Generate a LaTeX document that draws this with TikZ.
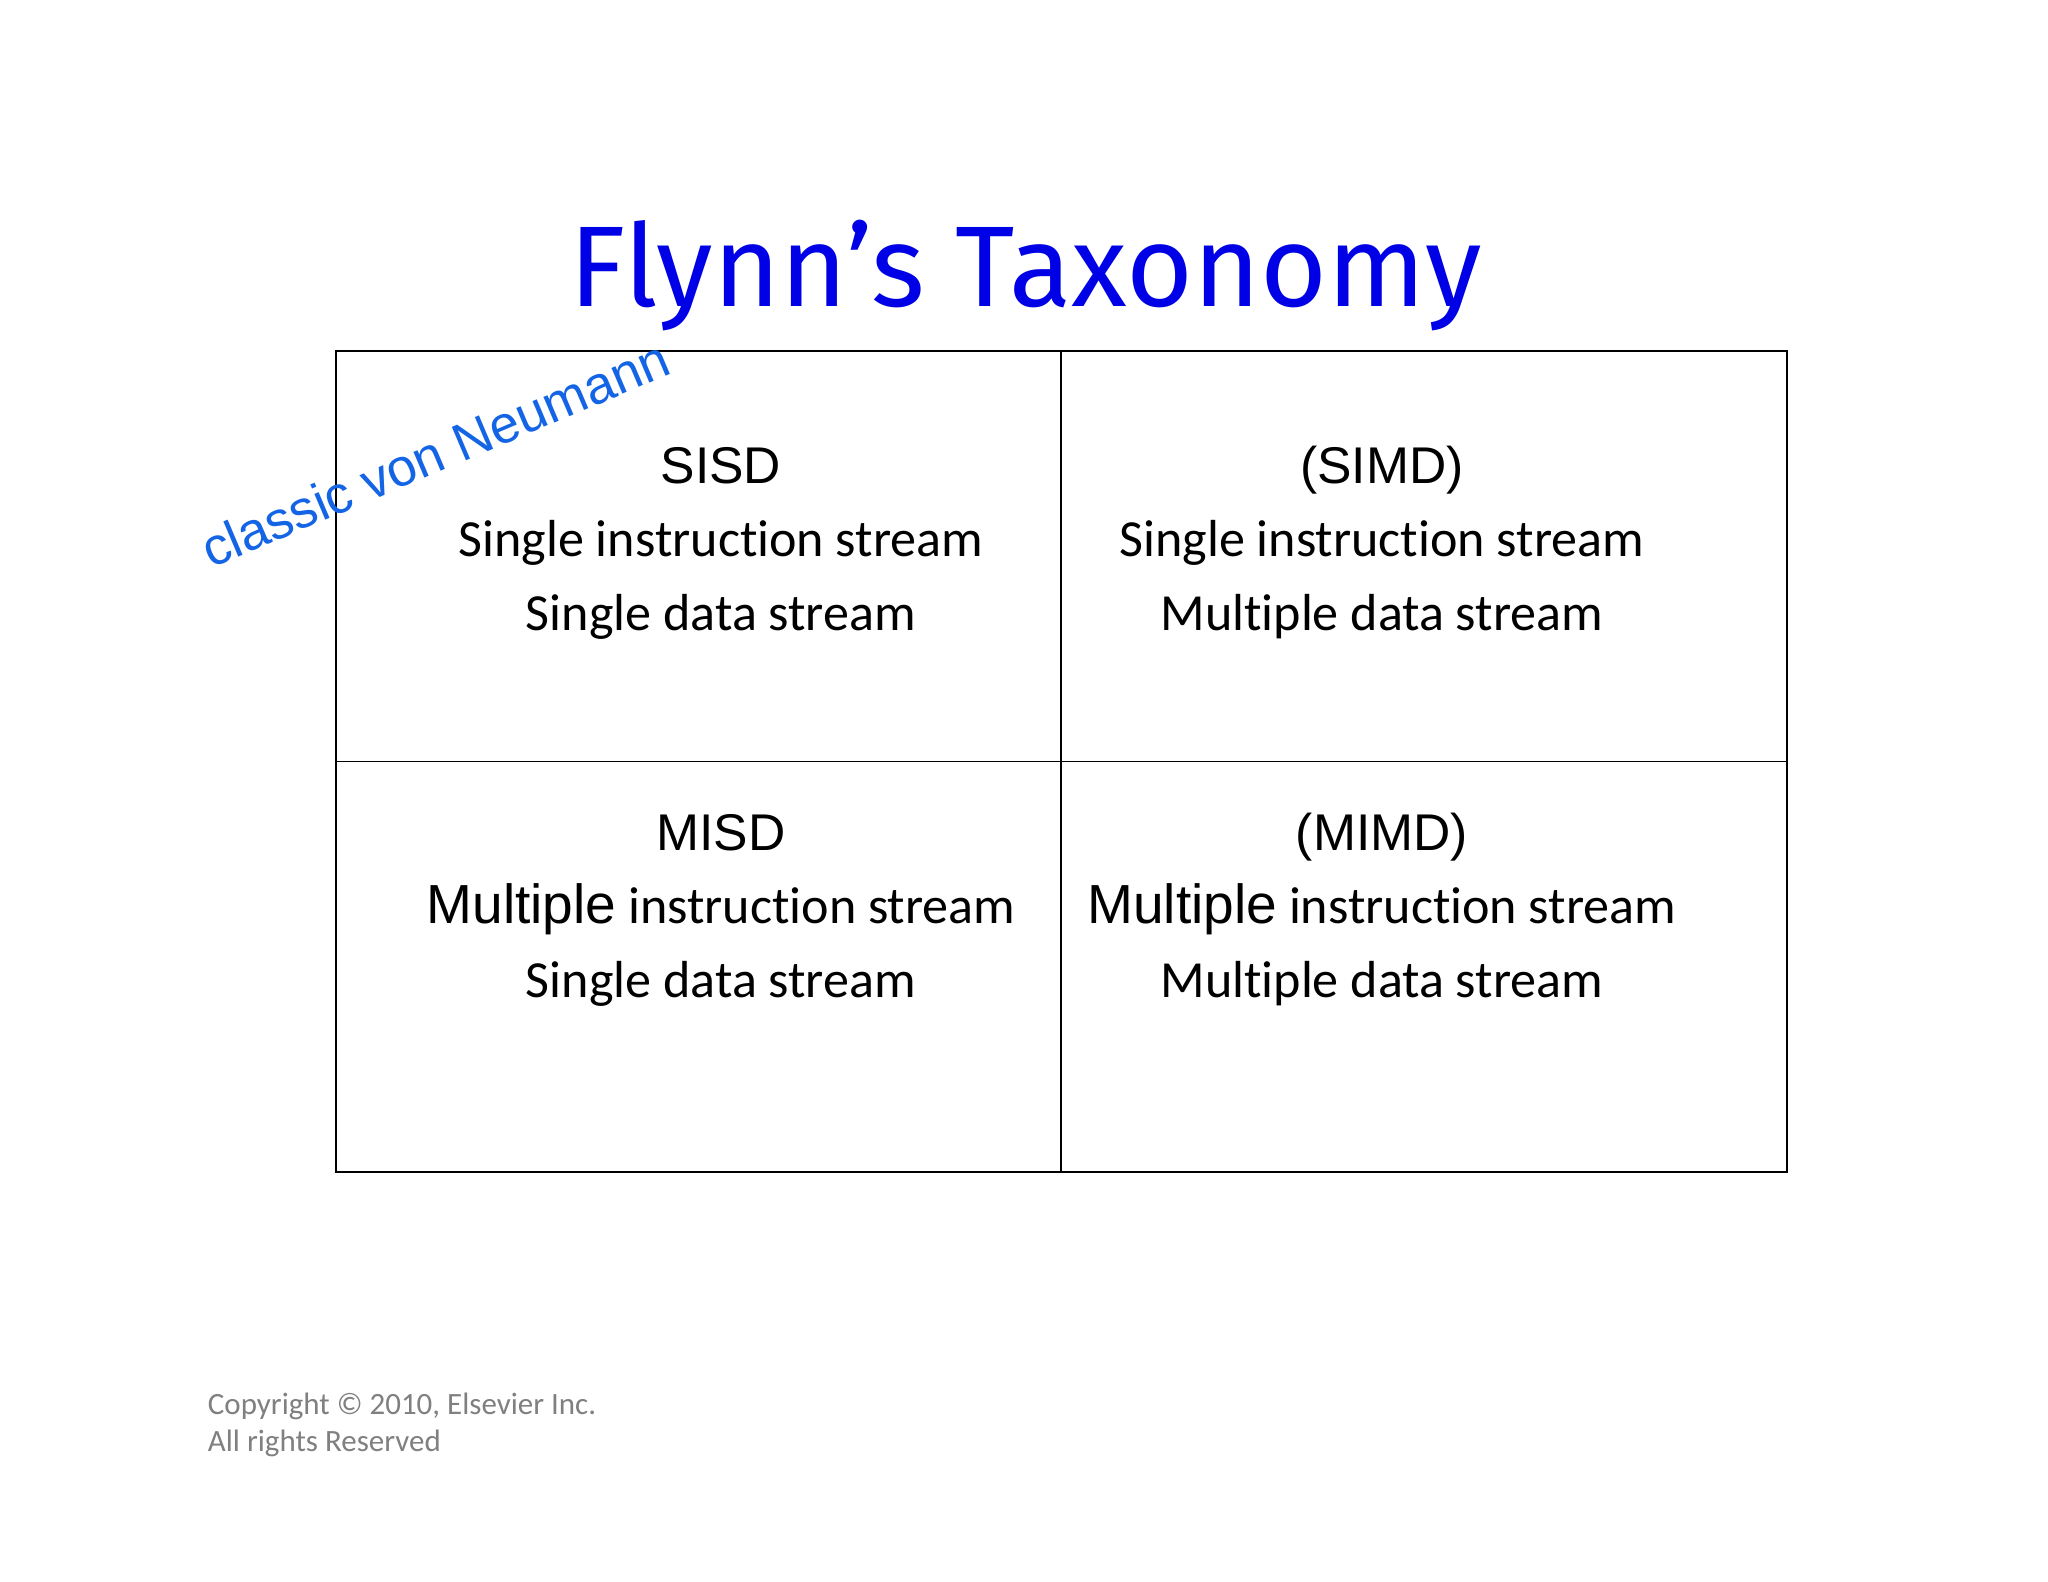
\documentclass[tikz,border=0pt]{standalone}
\usepackage{fontspec}
\setmainfont[Ligatures=NoCommon]{Carlito}
\newfontfamily\arialf{Liberation Sans}
\newfontfamily\titlef{Fira Sans}
\newcommand\mulword{{\arialf\fontsize{24}{26}\selectfont Multiple}}
\definecolor{titleblue}{RGB}{0,0,230}
\definecolor{vnblue}{RGB}{20,100,230}
\definecolor{copygray}{RGB}{128,128,128}
\begin{document}
\begin{tikzpicture}[x=0.02cm,y=-0.02cm,
  cell/.style={draw=black,line width=0.8pt},
  head/.style={font=\arialf\fontsize{22.5}{26}\selectfont,anchor=base},
  body/.style={font=\fontsize{22.7}{26}\selectfont,anchor=base}]
\useasboundingbox (0,0) rectangle (1568,1211);
\fill[white] (0,0) rectangle (1568,1211);
\node[font=\titlef\fontsize{50}{54}\selectfont,text=titleblue,anchor=base] (title) at (785,235) {Flynn’s Taxonomy};
\draw[cell] (257,269) rectangle (1368,897);
\draw[cell] (812,269) -- (812,897);
\draw[cell] (257,583) -- (1368,583);
\node[head] (h1) at (552,370) {SISD};
\node[body] (a1) at (552,426) {Single instruction stream};
\node[body] (b1) at (552,483) {Single data stream};
\node[head] (h2) at (1058,370) {(SIMD)};
\node[body] (a2) at (1058,426) {Single instruction stream};
\node[body] (b2) at (1058,483) {Multiple data stream};
\node[head] (h3) at (552,651) {MISD};
\node[body] (a3) at (552,707) {\mulword{} instruction stream};
\node[body] (b3) at (552,764) {Single data stream};
\node[head] (h4) at (1058,651) {(MIMD)};
\node[body] (a4) at (1058,707) {\mulword{} instruction stream};
\node[body] (b4) at (1058,764) {Multiple data stream};
\node[font=\arialf\fontsize{23}{26}\selectfont,text=vnblue,rotate=23] (vn) at (333,347) {classic von Neumann};
\node[font=\fontsize{13.5}{16}\selectfont,text=copygray,anchor=base west] (c1) at (153,1083) {Copyright © 2010, Elsevier Inc.};
\node[font=\fontsize{13.5}{16}\selectfont,text=copygray,anchor=base west] (c2) at (153,1111) {All rights Reserved};
\end{tikzpicture}
\end{document}
